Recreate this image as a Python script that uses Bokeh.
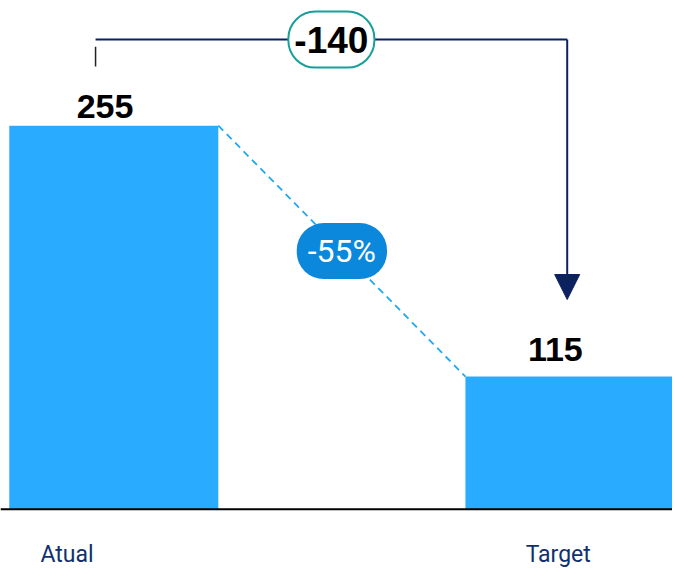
from bokeh.plotting import figure
from bokeh.models import Range1d, Span, Label, Arrow, NormalHead, ColumnDataSource
from bokeh.core.properties import value
from bokeh.embed import file_html
from bokeh.resources import INLINE

# ---- data ----
categories = ["Atual", "Target"]
values = [255, 115]
value_labels = [str(v) for v in values]
delta = values[1] - values[0]
delta_label = f"{delta}"
pct_label = f"{round(100 * delta / values[0])}%"

# ---- layout / style ----
W, H = 672, 572
S = 0.975                      # pixel scale factor for offsets / fonts
X_POS = [0, 1]
UNIT = 467.0                   # reference px between category centres
BAR_W = 214 / UNIT
X_START = -116 / UNIT
X_END = X_START + 688 / UNIT
Y_MIN = 41
K = 258 / 140                  # reference px per value unit
Y_TOP = Y_MIN + 523 / K
Y_BOTTOM = Y_MIN - 65 / K

BAR_COLOR = "#29abff"
DASH_COLOR = "#22a8f0"
NAVY = "#0b2160"
PILL_COLOR = "#0b88dc"
TEAL = "#17a09a"
LABEL_NAVY = "#11306e"

BRACKET_Y = 303
BRACKET_X = [-0.04, 0.994]
ARROW_END_Y = 158
TICK_Y = [299, 288]

p = figure(width=W, height=H, x_range=Range1d(X_START, X_END),
           y_range=Range1d(Y_BOTTOM, Y_TOP), output_backend="svg",
           toolbar_location=None, x_axis_type=None, y_axis_type=None,
           min_border=0)
p.grid.visible = False
p.outline_line_color = None
p.background_fill_color = "white"
p.border_fill_color = "white"

src = ColumnDataSource(dict(x=X_POS, top=values, vlab=value_labels, cat=categories,
                            vdx=[-9 * S, -15 * S], vdy=[-19.5 * S, -28 * S],
                            cdx=[-48 * S, -12 * S]))

p.vbar(x="x", top="top", bottom=Y_MIN, width=BAR_W, source=src,
       fill_color=BAR_COLOR, line_color=None)

p.add_layout(Span(location=Y_MIN, dimension="width", line_color="black",
                  line_width=2))

# connector dashed line
p.line(x=[X_POS[0] + BAR_W / 2, X_POS[1] - BAR_W / 2], y=[values[0], values[1]],
       line_color=DASH_COLOR, line_width=1.8, line_dash="7 5")

# value labels
p.text(x="x", y="top", text="vlab", source=src, x_offset="vdx", y_offset="vdy",
       text_align="center", text_baseline="middle",
       text_font=value("Liberation Sans"), text_font_style="bold",
       text_font_size=f"{round(35 * S)}px", text_color="black")

# category labels
p.text(x="x", y=Y_MIN, text="cat", source=src, x_offset="cdx", y_offset=46 * S,
       text_align="center", text_baseline="middle",
       text_font=value("Roboto"), text_font_size=f"{round(23.5 * S)}px",
       text_color=LABEL_NAVY)

# bracket
p.line(x=BRACKET_X, y=[BRACKET_Y, BRACKET_Y], line_color=NAVY, line_width=2)
p.segment(x0=[BRACKET_X[0]], y0=[TICK_Y[0]], x1=[BRACKET_X[0]], y1=[TICK_Y[1]],
          line_color="#222222", line_width=1.5)
p.add_layout(Arrow(x_start=BRACKET_X[1], y_start=BRACKET_Y,
                   x_end=BRACKET_X[1], y_end=ARROW_END_Y,
                   line_color=NAVY, line_width=2,
                   end=NormalHead(size=round(26 * S), fill_color=NAVY, line_color=NAVY)))

p.add_layout(Label(x=(BRACKET_X[0] + BRACKET_X[1]) / 2, y=BRACKET_Y,
                   text=delta_label, text_align="center", text_baseline="middle",
                   text_font="Liberation Sans", text_font_style="bold",
                   text_font_size=f"{round(38 * S)}px", text_color="black",
                   background_fill_color="white", border_line_color=TEAL,
                   border_line_width=2, border_radius=27, padding=(6, 15)))

p.add_layout(Label(x=(X_POS[0] + X_POS[1]) / 2, y=(values[0] + values[1]) / 2,
                   text=pct_label, text_align="center", text_baseline="middle",
                   text_font="Roboto", text_font_size=f"{round(33 * S)}px",
                   text_color="white", background_fill_color=PILL_COLOR,
                   border_line_color=None, border_radius=27, padding=(11, 9)))

open("out.html", "w").write(file_html(p, INLINE))
